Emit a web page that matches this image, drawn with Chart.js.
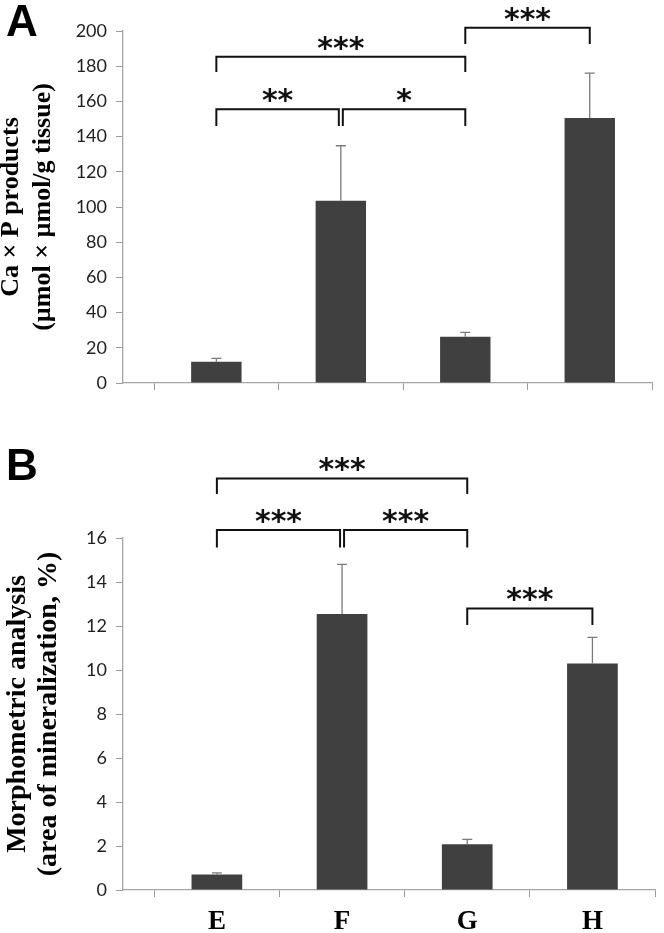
<!DOCTYPE html>
<html>
<head>
<meta charset="utf-8">
<script src="https://cdn.jsdelivr.net/npm/chart.js@4.4.1/dist/chart.umd.min.js"></script>
<style>
  html, body { margin: 0; padding: 0; background: #fff; }
  #wrap { position: relative; width: 664px; height: 933px; overflow: hidden; }
  canvas { position: absolute; left: 0; }
  #chartA { top: 0; }
  #chartB { top: 430px; }
  .panel { position: absolute; left: 6px; font: bold 44px "Liberation Sans", Arial, sans-serif; line-height: 44px; color: #000; }
</style>
</head>
<body>
<div id="wrap">
  <canvas id="chartA" width="664" height="430" style="width:664px;height:430px"></canvas>
  <canvas id="chartB" width="664" height="503" style="width:664px;height:503px"></canvas>
  <div class="panel" style="top:-1px">A</div>
  <div class="panel" style="top:443px">B</div>
</div>
<script>
// ==================== DATA ====================
const groups = ['E', 'F', 'G', 'H'];

// panel A: Ca x P products
const caP = [12.1, 103.6, 26.3, 150.6];
const caPErr = [1.9, 31.2, 2.5, 25.5];
const caPMax = 200, caPStep = 20;
const caPTitle = ['Ca × P products', '(µmol × µmol/g tissue)'];
const caPBrackets = [
    { from: 0, to: 2, top: 185.4, leg: 176.7, label: '***' },
    { from: 0, to: 1, top: 155.5, leg: 146.0, label: '**' },
    { from: 1, to: 2, top: 155.5, leg: 146.0, label: '*' },
    { from: 2, to: 3, top: 201.9, leg: 192.6, label: '***' }
];

// panel B: morphometric analysis
const morph = [0.7, 12.55, 2.08, 10.3];
const morphErr = [0.08, 2.25, 0.22, 1.18];
const morphMax = 16, morphStep = 2;
const morphTitle = ['Morphometric analysis', '(area of mineralization, %)'];
const morphBrackets = [
    { from: 0, to: 2, top: 18.71, leg: 18.0, label: '***' },
    { from: 0, to: 1, top: 16.36, leg: 15.57, label: '***' },
    { from: 1, to: 2, top: 16.36, leg: 15.57, label: '***' },
    { from: 2, to: 3, top: 12.8, leg: 12.05, label: '***' }
];

// ==================== PLUGIN ====================
// error bars (upper only) + significance brackets
function makeSigPlugin(values, errors, brackets) {
    return {
        id: 'sig',
        afterDatasetsDraw(chart) {
            const ctx = chart.ctx;
            const x = chart.scales.x, y = chart.scales.y;
            const meta = chart.getDatasetMeta(0);
            ctx.save();
            ctx.strokeStyle = '#7a7a7a';
            ctx.lineWidth = 1.3;
            errors.forEach((e, i) => {
                const el = meta.data[i];
                const top = y.getPixelForValue(values[i] + e);
                ctx.beginPath();
                ctx.moveTo(el.x, el.y);
                ctx.lineTo(el.x, top);
                ctx.moveTo(el.x - 5, top);
                ctx.lineTo(el.x + 5, top);
                ctx.stroke();
            });
            ctx.strokeStyle = '#111';
            ctx.lineWidth = 2;
            ctx.fillStyle = '#111';
            ctx.font = 'bold 30px "DejaVu Sans", sans-serif';
            ctx.textAlign = 'center';
            ctx.textBaseline = 'alphabetic';
            brackets.forEach(b => {
                // nudge legs apart where two brackets meet on the same bar
                const shareL = brackets.some(o => o !== b && o.top === b.top && o.to === b.from);
                const shareR = brackets.some(o => o !== b && o.top === b.top && o.from === b.to);
                const xl = x.getPixelForValue(b.from) + (shareL ? 2 : 0);
                const xr = x.getPixelForValue(b.to) - (shareR ? 2 : 0);
                const yt = y.getPixelForValue(b.top);
                const yl = y.getPixelForValue(b.leg);
                ctx.beginPath();
                ctx.moveTo(xl, yl);
                ctx.lineTo(xl, yt);
                ctx.lineTo(xr, yt);
                ctx.lineTo(xr, yl);
                ctx.stroke();
                ctx.fillText(b.label, (xl + xr) / 2, yt + 1);
            });
            ctx.restore();
        }
    };
}

// ==================== CHARTS ====================
function makeChart(id, values, errors, brackets, yMax, yStep, title, cfg) {
    const ctx = document.getElementById(id).getContext('2d');
    return new Chart(ctx, {
        type: 'bar',
        data: {
            datasets: [{
                data: values.map((v, i) => ({ x: i, y: v })),
                backgroundColor: '#404040',
                borderWidth: 0,
                // tick marks sit every half category, so the ruler is half a category wide
                barPercentage: 0.81,
                categoryPercentage: 1
            }]
        },
        options: {
            responsive: false,
            animation: false,
            devicePixelRatio: 1,
            layout: { padding: { top: cfg.padTop, right: cfg.padRight, left: 0, bottom: 0 } },
            plugins: { legend: { display: false }, tooltip: { enabled: false } },
            scales: {
                x: {
                    type: 'linear',
                    min: -0.75,
                    max: groups.length - 0.5,
                    offset: false,
                    afterBuildTicks: s => {
                        const t = [];
                        for (let v = -0.5; v <= groups.length - 0.5; v += 0.5) t.push({ value: v });
                        s.ticks = t;
                    },
                    afterFit: s => { s.height = cfg.xHeight; },
                    grid: {
                        offset: false,
                        drawOnChartArea: false,
                        tickLength: 7,
                        tickWidth: 1,
                        tickColor: c => Number.isInteger(c.tick && c.tick.value) ? 'rgba(0,0,0,0)' : '#9a9a9a'
                    },
                    border: { color: '#a6a6a6', width: 1.3 },
                    ticks: {
                        autoSkip: false,
                        maxRotation: 0,
                        padding: 9,
                        color: '#000',
                        font: { family: '"Liberation Serif", "Times New Roman", serif', size: 27, weight: 'bold' },
                        callback: v => (cfg.showLabels && Number.isInteger(v)) ? groups[v] : ''
                    }
                },
                y: {
                    min: 0,
                    max: yMax,
                    afterFit: s => { s.width = 123; },
                    grid: { drawOnChartArea: false, tickLength: 7, tickColor: '#9a9a9a' },
                    border: { color: '#a6a6a6', width: 1.3 },
                    ticks: {
                        stepSize: yStep,
                        padding: 9,
                        color: '#1f1f1f',
                        font: { family: 'Lato, "Open Sans", sans-serif', size: 18 }
                    },
                    title: {
                        display: true,
                        text: title,
                        color: '#000',
                        padding: { top: cfg.titlePad, bottom: 0 },
                        font: { family: '"Liberation Serif", "Times New Roman", serif', size: cfg.titleSize, weight: 'bold', lineHeight: cfg.titleLine }
                    }
                }
            }
        },
        plugins: [makeSigPlugin(values, errors, brackets)]
    });
}

makeChart('chartA', caP, caPErr, caPBrackets, caPMax, caPStep, caPTitle,
    { padTop: 31, padRight: 12, xHeight: 47, showLabels: false, titleSize: 26, titleLine: 32 / 26, titlePad: -5 });
makeChart('chartB', morph, morphErr, morphBrackets, morphMax, morphStep, morphTitle,
    { padTop: 108, padRight: 2, xHeight: 43, showLabels: true, titleSize: 28, titleLine: 31 / 28, titlePad: 2 });
</script>
</body>
</html>
